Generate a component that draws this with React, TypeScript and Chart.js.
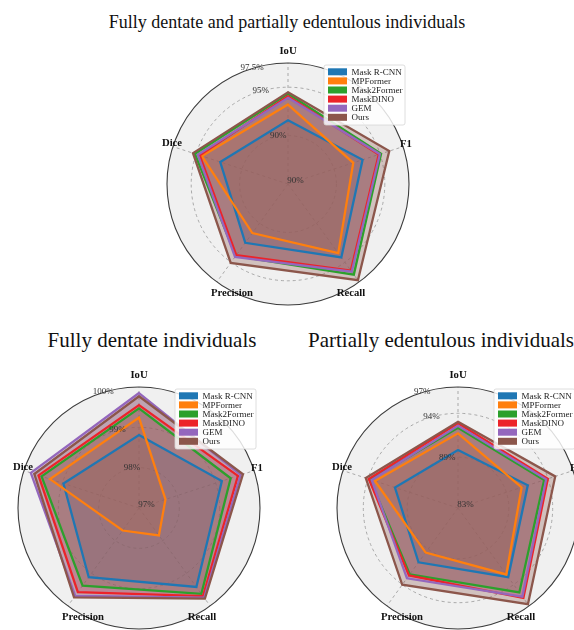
import React, { useEffect, useRef } from "react";
import { Chart, registerables } from "chart.js";

Chart.register(...registerables);

const axes = ["IoU", "F1", "Recall", "Precision", "Dice"];
const methods = ["Mask R-CNN", "MPFormer", "Mask2Former", "MaskDINO", "GEM", "Ours"];
const colors = ["#1f77b4", "#ff7f0e", "#2ca02c", "#ec2329", "#9467bd", "#8c564b"];

// Fully dentate and partially edentulous individuals  [IoU, F1, Recall, Precision, Dice]
const allMaskRCNN = [91.59, 93.1, 94.37, 92.51, 92.36];
const allMPFormer = [93.21, 92.09, 93.83, 91.27, 94.35];
const allMask2Former = [94.32, 95.11, 96.57, 94.19, 95.12];
const allMaskDINO = [94.07, 94.86, 96.05, 94.09, 94.59];
const allGEM = [93.91, 94.98, 96.2, 94.31, 94.8];
const allOurs = [94.48, 96.0, 97.29, 95.07, 95.32];
const allTicks = [85, 90, 95, 97.5];
const allTickText = ["90%", "90%", "95%", "97.5%"];

// Fully dentate individuals
const fullMaskRCNN = [98.81, 99.16, 99.42, 99.12, 98.97];
const fullMPFormer = [99.24, 97.69, 97.84, 97.69, 99.32];
const fullMask2Former = [99.47, 99.39, 99.63, 99.38, 99.54];
const fullMaskDINO = [99.55, 99.58, 99.7, 99.58, 99.62];
const fullGEM = [99.85, 99.65, 99.75, 99.69, 99.82];
const fullOurs = [99.77, 99.71, 99.78, 99.74, 99.73];
const fullTicks = [97, 98, 99, 100];
const fullTickText = ["97%", "98%", "99%", "100%"];

// Partially edentulous individuals
const partMaskRCNN = [89.81, 91.57, 92.94, 90.86, 90.76];
const partMPFormer = [91.72, 90.83, 92.57, 89.48, 93.16];
const partMask2Former = [92.36, 93.53, 95.1, 92.55, 93.75];
const partMaskDINO = [92.86, 93.97, 95.89, 92.71, 93.9];
const partGEM = [92.58, 93.77, 95.69, 93.11, 93.55];
const partOurs = [93.04, 94.86, 96.77, 94.02, 94.26];
const partTicks = [83.2, 89, 94, 97];
const partTickText = ["83%", "89%", "94%", "97%"];

const SERIF = '"Liberation Serif", "Times New Roman", serif';
const LABEL_OFFSETS = [
  [0, -133],
  [118, -40],
  [63, 109.5],
  [-56, 109.5],
  [-116, -40.5],
];

type Cfg = {
  cx: number;
  cy: number;
  series: number[][];
  ticks: number[];
  tickText: string[];
};

const charts: Cfg[] = [
  {
    cx: 288,
    cy: 184,
    series: [allMaskRCNN, allMPFormer, allMask2Former, allMaskDINO, allGEM, allOurs],
    ticks: allTicks,
    tickText: allTickText,
  },
  {
    cx: 139,
    cy: 508,
    series: [fullMaskRCNN, fullMPFormer, fullMask2Former, fullMaskDINO, fullGEM, fullOurs],
    ticks: fullTicks,
    tickText: fullTickText,
  },
  {
    cx: 458,
    cy: 508,
    series: [partMaskRCNN, partMPFormer, partMask2Former, partMaskDINO, partGEM, partOurs],
    ticks: partTicks,
    tickText: partTickText,
  },
];

function hexA(hex: string, a: number) {
  const n = parseInt(hex.slice(1), 16);
  return `rgba(${(n >> 16) & 255},${(n >> 8) & 255},${n & 255},${a})`;
}

function makePlugin(cfg: Cfg) {
  return {
    id: "radarDecor",
    beforeDraw(chart: any) {
      const s = chart.scales.r;
      const ctx = chart.ctx;
      ctx.save();
      ctx.beginPath();
      ctx.arc(s.xCenter, s.yCenter, s.drawingArea, 0, Math.PI * 2);
      ctx.fillStyle = "#f0f0f0";
      ctx.fill();
      ctx.restore();
    },
    afterDraw(chart: any) {
      const s = chart.scales.r;
      const ctx = chart.ctx;
      ctx.save();
      // outer spine
      ctx.beginPath();
      ctx.arc(s.xCenter, s.yCenter, s.drawingArea, 0, Math.PI * 2);
      ctx.strokeStyle = "#3c3c3c";
      ctx.lineWidth = 1.1;
      ctx.stroke();

      // radial tick labels
      ctx.font = `9px ${SERIF}`;
      ctx.fillStyle = "#333";
      ctx.textAlign = "center";
      ctx.textBaseline = "middle";
      const a = (111 * Math.PI) / 180;
      cfg.ticks.forEach((v, i) => {
        const r = s.getDistanceFromCenterForValue(v);
        ctx.fillText(cfg.tickText[i], s.xCenter + 7.5 + r * Math.cos(a), s.yCenter - 3 - r * Math.sin(a));
      });

      // axis labels
      ctx.font = `bold 10.7px ${SERIF}`;
      ctx.fillStyle = "#111";
      const k = s.drawingArea / 121;
      axes.forEach((lab, i) => {
        const o = LABEL_OFFSETS[i];
        ctx.fillText(lab, s.xCenter + o[0] * k, s.yCenter + o[1] * k);
      });

      // legend
      const lx = s.xCenter + 36;
      const ly = s.yCenter - 119;
      const lw = 81;
      const lh = 60;
      ctx.beginPath();
      ctx.roundRect(lx, ly, lw, lh, 2);
      ctx.fillStyle = "rgba(255,255,255,0.82)";
      ctx.fill();
      ctx.strokeStyle = "#d6d6d6";
      ctx.lineWidth = 0.8;
      ctx.stroke();
      ctx.font = `9px ${SERIF}`;
      ctx.textAlign = "left";
      methods.forEach((m, i) => {
        const y = ly + 6.8 + i * 9.1;
        ctx.fillStyle = colors[i];
        ctx.fillRect(lx + 4, y - 3.5, 19, 7);
        ctx.fillStyle = "#222";
        ctx.fillText(m, lx + 27.5, y + 0.5);
      });
      ctx.restore();
    },
  };
}

function Radar({ cfg }: { cfg: Cfg }) {
  const ref = useRef<HTMLCanvasElement>(null);
  useEffect(() => {
    const last = cfg.ticks.length - 1;
    const chart = new Chart(ref.current as HTMLCanvasElement, {
      type: "radar",
      data: {
        labels: axes,
        datasets: methods.map((m, i) => ({
          label: m,
          data: cfg.series[i],
          borderColor: colors[i],
          backgroundColor: hexA(colors[i], 0.3),
          borderWidth: 2.3,
          pointRadius: 0,
          fill: true,
          order: methods.length - i,
        })),
      },
      options: {
        responsive: false,
        animation: false,
        layout: { padding: 29 },
        plugins: {
          legend: { display: false },
          tooltip: { enabled: false },
          filler: { drawTime: "beforeDatasetsDraw" },
        },
        elements: { line: { tension: 0 } },
        scales: {
          r: {
            min: cfg.ticks[0],
            max: cfg.ticks[last],
            afterBuildTicks: (scale: any) => {
              scale.ticks = cfg.ticks.map((v) => ({ value: v }));
            },
            ticks: { display: false },
            pointLabels: { display: false },
            grid: {
              circular: true,
              color: (c: any) => (c.index === last ? "rgba(0,0,0,0)" : "#a0a0a0"),
              lineWidth: 0.9,
            },
            border: { dash: [3, 3] },
            angleLines: { color: "#a0a0a0", lineWidth: 0.9, borderDash: [3, 3] },
          },
        },
      },
      plugins: [makePlugin(cfg)],
    } as any);
    return () => chart.destroy();
  }, [cfg]);
  return (
    <canvas
      ref={ref}
      width={300}
      height={300}
      style={{ position: "absolute", left: cfg.cx - 150, top: cfg.cy - 150, width: 300, height: 300 }}
    />
  );
}

const titleStyle: React.CSSProperties = {
  position: "absolute",
  fontFamily: SERIF,
  color: "#111",
  textAlign: "center",
  whiteSpace: "nowrap",
  width: 440,
};

export default function App() {
  return (
    <div
      style={{
        position: "fixed",
        left: 0,
        top: 0,
        width: 574,
        height: 630,
        overflow: "hidden",
        background: "#fff",
      }}
    >
      <div style={{ ...titleStyle, left: 287 - 220, top: 11, fontSize: 18, lineHeight: "22px" }}>
        Fully dentate and partially edentulous individuals
      </div>
      <div style={{ ...titleStyle, left: 152 - 220, top: 327, fontSize: 21, lineHeight: "26px" }}>
        Fully dentate individuals
      </div>
      <div style={{ ...titleStyle, left: 441 - 220, top: 327, fontSize: 21, lineHeight: "26px" }}>
        Partially edentulous individuals
      </div>
      {charts.map((c, i) => (
        <Radar key={i} cfg={c} />
      ))}
    </div>
  );
}
